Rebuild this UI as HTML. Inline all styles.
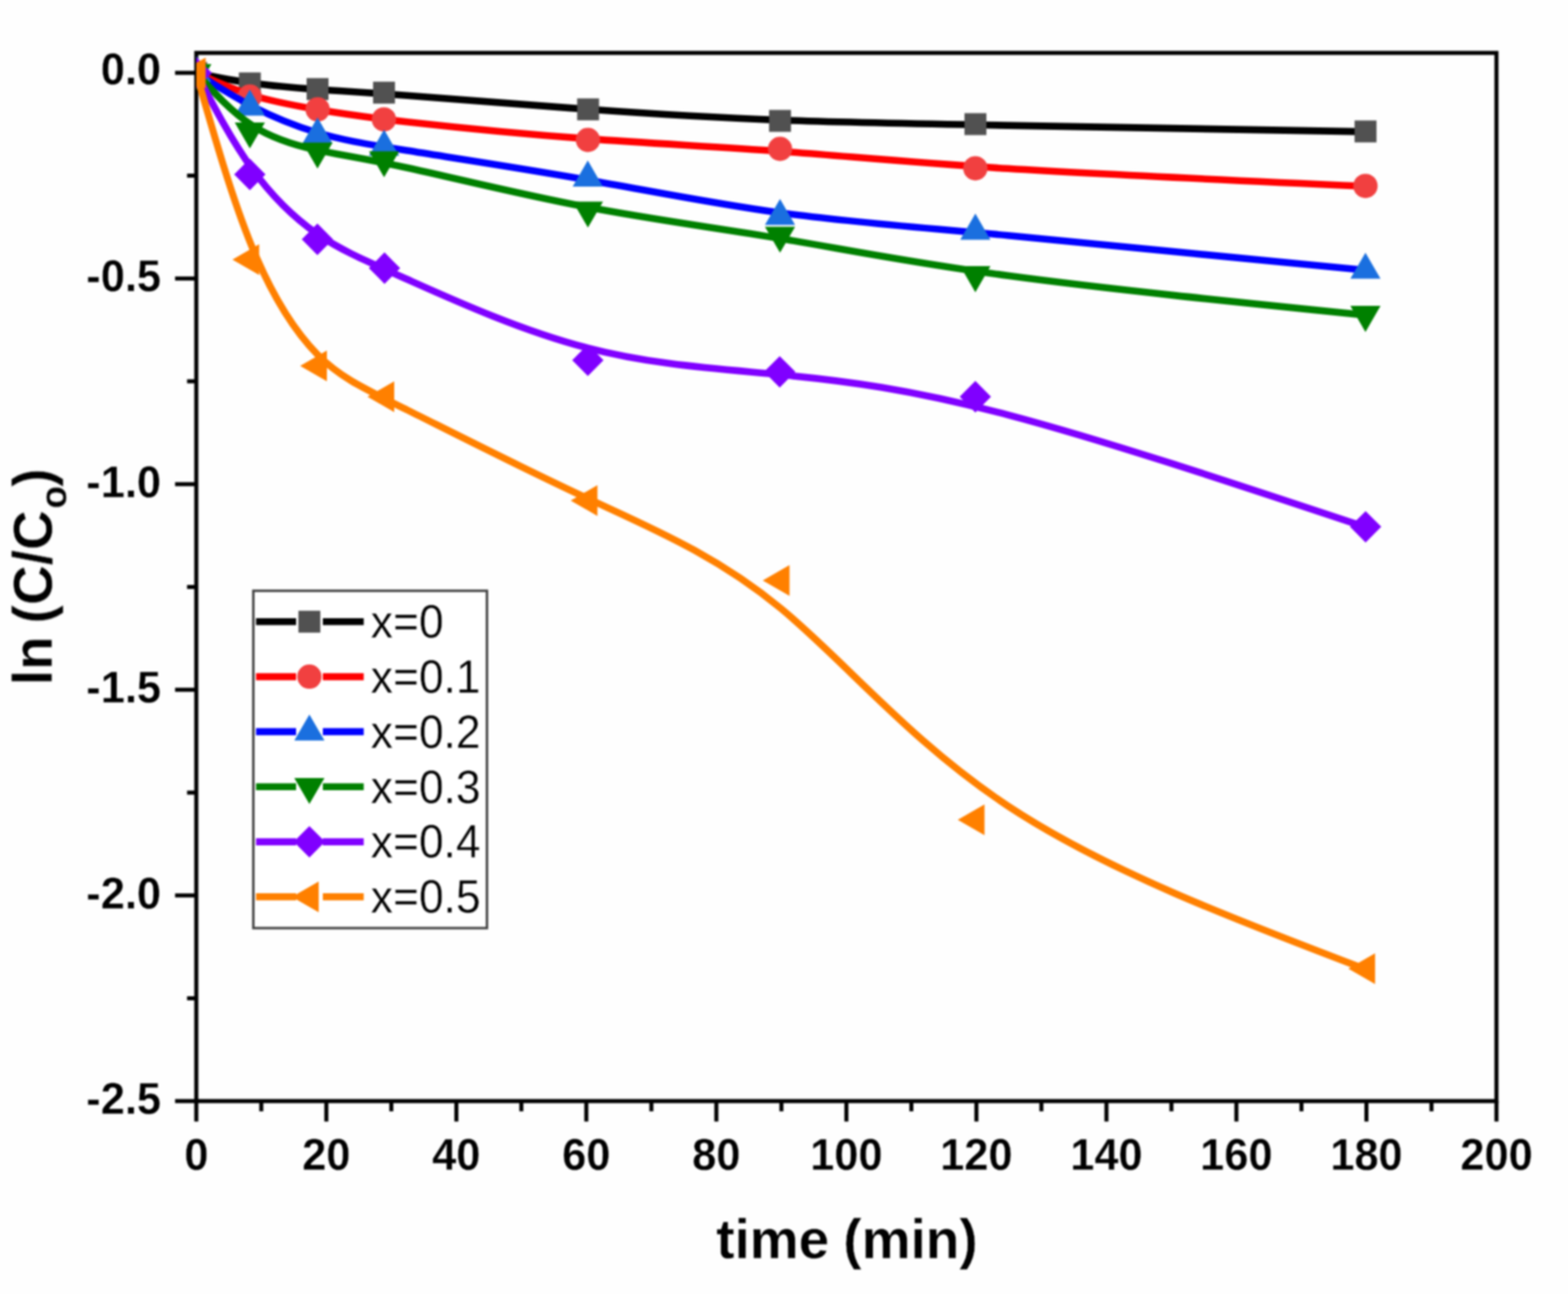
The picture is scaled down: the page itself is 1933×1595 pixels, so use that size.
<!DOCTYPE html>
<html lang="en"><head><meta charset="utf-8"><title>ln (C/Co) vs time (min)</title>
<style>html,body{margin:0;padding:0;background:#fff;}body{width:1933px;height:1595px;overflow:hidden;}svg{display:block;}text{font-family:"Liberation Sans",Arial,Helvetica,sans-serif;fill:#000;stroke:#fefefe;stroke-linejoin:round;}.tk{font-weight:bold;font-size:53.5px;stroke-width:0.3px;}.ti{font-weight:bold;font-size:67.8px;stroke-width:0.4px;}.lg{font-size:54.8px;stroke-width:0.4px;}</style></head><body>
<svg width="1933" height="1595" viewBox="0 0 1933 1595">
<rect width="1933" height="1595" fill="#fefefe"/>
<filter id="soft" x="0" y="0" width="1933" height="1595" filterUnits="userSpaceOnUse" color-interpolation-filters="sRGB"><feGaussianBlur stdDeviation="0.8"/></filter>
<g filter="url(#soft)">
<defs><clipPath id="clip"><rect x="242.0" y="66.7" width="1602.8" height="1290.5"/></clipPath></defs>
<g stroke="#000" stroke-width="5.0" fill="none" stroke-linecap="butt">
<rect x="242.0" y="65.2" width="1602.8" height="1292.0"/>
<line x1="242.0" y1="1357.2" x2="242.0" y2="1382.4"/>
<line x1="322.1" y1="1357.2" x2="322.1" y2="1369.8"/>
<line x1="402.3" y1="1357.2" x2="402.3" y2="1382.4"/>
<line x1="482.4" y1="1357.2" x2="482.4" y2="1369.8"/>
<line x1="562.6" y1="1357.2" x2="562.6" y2="1382.4"/>
<line x1="642.7" y1="1357.2" x2="642.7" y2="1369.8"/>
<line x1="722.8" y1="1357.2" x2="722.8" y2="1382.4"/>
<line x1="803.0" y1="1357.2" x2="803.0" y2="1369.8"/>
<line x1="883.1" y1="1357.2" x2="883.1" y2="1382.4"/>
<line x1="963.3" y1="1357.2" x2="963.3" y2="1369.8"/>
<line x1="1043.4" y1="1357.2" x2="1043.4" y2="1382.4"/>
<line x1="1123.5" y1="1357.2" x2="1123.5" y2="1369.8"/>
<line x1="1203.7" y1="1357.2" x2="1203.7" y2="1382.4"/>
<line x1="1283.8" y1="1357.2" x2="1283.8" y2="1369.8"/>
<line x1="1364.0" y1="1357.2" x2="1364.0" y2="1382.4"/>
<line x1="1444.1" y1="1357.2" x2="1444.1" y2="1369.8"/>
<line x1="1524.2" y1="1357.2" x2="1524.2" y2="1382.4"/>
<line x1="1604.4" y1="1357.2" x2="1604.4" y2="1369.8"/>
<line x1="1684.5" y1="1357.2" x2="1684.5" y2="1382.4"/>
<line x1="1764.7" y1="1357.2" x2="1764.7" y2="1369.8"/>
<line x1="1844.8" y1="1357.2" x2="1844.8" y2="1382.4"/>
<line x1="242.0" y1="89.8" x2="215.8" y2="89.8"/>
<line x1="242.0" y1="216.5" x2="230.6" y2="216.5"/>
<line x1="242.0" y1="343.3" x2="215.8" y2="343.3"/>
<line x1="242.0" y1="470.0" x2="230.6" y2="470.0"/>
<line x1="242.0" y1="596.8" x2="215.8" y2="596.8"/>
<line x1="242.0" y1="723.5" x2="230.6" y2="723.5"/>
<line x1="242.0" y1="850.2" x2="215.8" y2="850.2"/>
<line x1="242.0" y1="977.0" x2="230.6" y2="977.0"/>
<line x1="242.0" y1="1103.7" x2="215.8" y2="1103.7"/>
<line x1="242.0" y1="1230.5" x2="230.6" y2="1230.5"/>
<line x1="242.0" y1="1357.2" x2="215.8" y2="1357.2"/>
</g>
<g clip-path="url(#clip)">
<path d="M242.0 90.0C264.0 94.5 286.0 99.1 310.9 102.5C335.8 105.9 363.7 108.3 391.2 110.2C418.8 112.1 446.1 113.5 501.7 117.7C557.3 121.9 641.1 128.7 722.5 134.5C803.9 140.3 882.7 145.1 962.3 148.1C1041.9 151.1 1122.2 152.5 1242.5 154.6C1362.8 156.7 1523.1 159.5 1683.4 162.4" fill="none" stroke="#000000" stroke-width="8.6" stroke-linejoin="round"/>
<rect x="228.5" y="76.5" width="27.0" height="27.0" fill="#515151"/>
<rect x="294.5" y="89.3" width="27.0" height="27.0" fill="#515151"/>
<rect x="378.0" y="96.3" width="27.0" height="27.0" fill="#515151"/>
<rect x="459.9" y="100.7" width="27.0" height="27.0" fill="#515151"/>
<rect x="711.5" y="121.3" width="27.0" height="27.0" fill="#515151"/>
<rect x="948.1" y="135.5" width="27.0" height="27.0" fill="#515151"/>
<rect x="1189.0" y="139.5" width="27.0" height="27.0" fill="#515151"/>
<rect x="1669.9" y="148.5" width="27.0" height="27.0" fill="#515151"/>
<path d="M242.0 90.0C264.0 99.9 286.0 109.9 310.9 117.5C335.9 125.1 363.7 130.3 391.3 135.0C418.8 139.7 446.1 143.9 501.6 150.2C557.1 156.4 641.0 164.9 722.4 170.9C803.7 177.0 882.7 180.6 962.3 186.5C1041.9 192.3 1122.1 200.2 1242.4 207.8C1362.7 215.3 1523.0 222.5 1683.3 229.6" fill="none" stroke="#ff0000" stroke-width="8.6" stroke-linejoin="round"/>
<circle cx="242.0" cy="90.0" r="15.0" fill="#f14040"/>
<circle cx="308.0" cy="119.0" r="15.0" fill="#f14040"/>
<circle cx="391.6" cy="134.8" r="15.0" fill="#f14040"/>
<circle cx="473.3" cy="147.2" r="15.0" fill="#f14040"/>
<circle cx="724.8" cy="172.5" r="15.0" fill="#f14040"/>
<circle cx="961.6" cy="183.5" r="15.0" fill="#f14040"/>
<circle cx="1202.4" cy="207.4" r="15.0" fill="#f14040"/>
<circle cx="1683.3" cy="229.2" r="15.0" fill="#f14040"/>
<path d="M242.0 90.0C264.0 104.1 286.0 118.2 310.9 131.0C335.8 143.8 363.6 155.3 391.2 163.5C418.8 171.8 446.1 176.8 501.7 185.6C557.2 194.5 640.9 207.1 722.2 221.4C803.6 235.6 882.6 251.4 962.2 262.3C1041.9 273.2 1122.1 279.3 1242.4 290.2C1362.7 301.2 1523.0 317.2 1683.3 333.1" fill="none" stroke="#0000ff" stroke-width="8.6" stroke-linejoin="round"/>
<polygon points="242.0,68.8 260.6,100.9 223.4,100.9" fill="#1a6fdf"/>
<polygon points="308.0,110.3 326.6,142.4 289.4,142.4" fill="#1a6fdf"/>
<polygon points="391.4,144.8 410.0,176.9 372.8,176.9" fill="#1a6fdf"/>
<polygon points="473.5,159.8 492.1,191.9 454.9,191.9" fill="#1a6fdf"/>
<polygon points="724.6,197.8 743.2,229.9 706.0,229.9" fill="#1a6fdf"/>
<polygon points="961.6,245.2 980.2,277.3 943.0,277.3" fill="#1a6fdf"/>
<polygon points="1202.4,263.3 1221.0,295.4 1183.8,295.4" fill="#1a6fdf"/>
<polygon points="1683.3,311.5 1701.9,343.6 1664.7,343.6" fill="#1a6fdf"/>
<path d="M242.0 90.0C264.0 114.2 286.0 138.4 310.9 154.6C335.8 170.9 363.6 179.1 391.2 185.1C418.8 191.0 446.1 194.6 501.7 206.7C557.3 218.8 641.0 239.5 722.4 255.0C803.7 270.5 882.7 280.8 962.3 294.1C1041.9 307.4 1122.1 323.6 1242.4 339.8C1362.7 356.0 1523.0 372.2 1683.3 388.4" fill="none" stroke="#008000" stroke-width="8.6" stroke-linejoin="round"/>
<polygon points="223.4,79.1 260.6,79.1 242.0,111.2" fill="#008000"/>
<polygon points="289.4,150.9 326.6,150.9 308.0,183.0" fill="#008000"/>
<polygon points="372.8,175.7 410.0,175.7 391.4,207.8" fill="#008000"/>
<polygon points="454.9,186.5 492.1,186.5 473.5,218.6" fill="#008000"/>
<polygon points="706.2,248.4 743.4,248.4 724.8,280.5" fill="#008000"/>
<polygon points="943.0,279.5 980.2,279.5 961.6,311.6" fill="#008000"/>
<polygon points="1183.8,328.1 1221.0,328.1 1202.4,360.2" fill="#008000"/>
<polygon points="1664.7,377.1 1701.9,377.1 1683.3,409.2" fill="#008000"/>
<path d="M242.0 90.0C264.0 131.9 286.0 173.9 310.9 208.2C335.8 242.5 363.5 269.1 391.2 288.4C418.9 307.6 446.4 319.5 502.0 344.3C557.6 369.1 641.1 407.0 722.3 428.3C803.5 449.6 882.4 454.3 962.0 461.8C1041.6 469.3 1122.0 479.6 1242.4 511.3C1362.8 543.1 1523.1 596.4 1683.5 649.7" fill="none" stroke="#8000ff" stroke-width="8.6" stroke-linejoin="round"/>
<polygon points="242.0,70.6 261.3,90.0 242.0,109.4 222.7,90.0" fill="#8000ff"/>
<polygon points="308.0,195.6 327.3,215.0 308.0,234.4 288.7,215.0" fill="#8000ff"/>
<polygon points="391.3,275.6 410.6,295.0 391.3,314.4 372.0,295.0" fill="#8000ff"/>
<polygon points="474.0,311.1 493.3,330.5 474.0,349.9 454.7,330.5" fill="#8000ff"/>
<polygon points="724.7,424.6 744.0,444.0 724.7,463.4 705.4,444.0" fill="#8000ff"/>
<polygon points="961.2,438.9 980.5,458.3 961.2,477.7 941.9,458.3" fill="#8000ff"/>
<polygon points="1202.4,469.6 1221.7,489.0 1202.4,508.4 1183.1,489.0" fill="#8000ff"/>
<polygon points="1683.5,629.9 1702.8,649.3 1683.5,668.7 1664.2,649.3" fill="#8000ff"/>
<path d="M242.0 90.0C264.0 167.2 286.0 244.3 310.9 304.8C335.8 365.2 363.7 408.8 391.4 437.0C419.2 465.2 446.8 477.8 502.4 505.5C558.0 533.2 641.5 575.8 722.7 613.6C803.9 651.4 882.9 684.2 962.4 749.8C1041.9 815.4 1122.1 913.7 1242.4 993.3C1362.7 1072.9 1523.2 1133.8 1683.7 1194.8" fill="none" stroke="#ff8000" stroke-width="8.6" stroke-linejoin="round"/>
<polygon points="220.5,90.0 253.5,71.0 253.5,109.0" fill="#ff8000"/>
<polygon points="286.5,320.0 319.5,301.0 319.5,339.0" fill="#ff8000"/>
<polygon points="370.0,451.0 403.0,432.0 403.0,470.0" fill="#ff8000"/>
<polygon points="453.0,489.0 486.0,470.0 486.0,508.0" fill="#ff8000"/>
<polygon points="703.5,617.0 736.5,598.0 736.5,636.0" fill="#ff8000"/>
<polygon points="940.3,715.6 973.3,696.6 973.3,734.6" fill="#ff8000"/>
<polygon points="1180.7,1010.5 1213.7,991.5 1213.7,1029.5" fill="#ff8000"/>
<polygon points="1662.2,1194.0 1695.2,1175.0 1695.2,1213.0" fill="#ff8000"/>
</g>
<text class="tk" transform="translate(242.0 1441.8) scale(1 1.03)" text-anchor="middle">0</text>
<text class="tk" transform="translate(402.3 1441.8) scale(1 1.03)" text-anchor="middle">20</text>
<text class="tk" transform="translate(562.6 1441.8) scale(1 1.03)" text-anchor="middle">40</text>
<text class="tk" transform="translate(722.8 1441.8) scale(1 1.03)" text-anchor="middle">60</text>
<text class="tk" transform="translate(883.1 1441.8) scale(1 1.03)" text-anchor="middle">80</text>
<text class="tk" transform="translate(1043.4 1441.8) scale(1 1.03)" text-anchor="middle">100</text>
<text class="tk" transform="translate(1203.7 1441.8) scale(1 1.03)" text-anchor="middle">120</text>
<text class="tk" transform="translate(1364.0 1441.8) scale(1 1.03)" text-anchor="middle">140</text>
<text class="tk" transform="translate(1524.2 1441.8) scale(1 1.03)" text-anchor="middle">160</text>
<text class="tk" transform="translate(1684.5 1441.8) scale(1 1.03)" text-anchor="middle">180</text>
<text class="tk" transform="translate(1844.8 1441.8) scale(1 1.03)" text-anchor="middle">200</text>
<text class="tk" transform="translate(198.5 104.4) scale(1 1.03)" text-anchor="end">0.0</text>
<text class="tk" transform="translate(198.5 359.1) scale(1 1.03)" text-anchor="end">-0.5</text>
<text class="tk" transform="translate(198.5 612.6) scale(1 1.03)" text-anchor="end">-1.0</text>
<text class="tk" transform="translate(198.5 866.0) scale(1 1.03)" text-anchor="end">-1.5</text>
<text class="tk" transform="translate(198.5 1119.5) scale(1 1.03)" text-anchor="end">-2.0</text>
<text class="tk" transform="translate(198.5 1373.0) scale(1 1.03)" text-anchor="end">-2.5</text>
<text class="ti" x="1042.6" y="1551.0" text-anchor="middle"><tspan dx="1.5">time</tspan><tspan dx="-1.5"> (min)</tspan></text>
<text class="ti" transform="translate(64.0 844.5) rotate(-90)" text-anchor="start">ln <tspan dx="-3">(C/C</tspan><tspan font-size="46" dx="2" dy="18">o</tspan><tspan dy="-18" dx="-1">)</tspan></text>
<rect x="312.3" y="728.2" width="288.0" height="415.8" fill="#fff" stroke="#404040" stroke-width="3"/>
<line x1="315.6" y1="766.3" x2="365" y2="766.3" stroke="#000000" stroke-width="8.6" stroke-linecap="butt"/>
<line x1="398" y1="766.3" x2="448.4" y2="766.3" stroke="#000000" stroke-width="8.6" stroke-linecap="butt"/>
<rect x="367.9" y="752.8" width="27.0" height="27.0" fill="#515151"/>
<text class="lg" transform="translate(457 786.1) scale(1 1.05)">x=0</text>
<line x1="315.6" y1="834.1" x2="365" y2="834.1" stroke="#ff0000" stroke-width="8.6" stroke-linecap="butt"/>
<line x1="398" y1="834.1" x2="448.4" y2="834.1" stroke="#ff0000" stroke-width="8.6" stroke-linecap="butt"/>
<circle cx="381.4" cy="834.1" r="15.0" fill="#f14040"/>
<text class="lg" transform="translate(457 853.9) scale(1 1.05)">x=0.1</text>
<line x1="315.6" y1="901.9" x2="365" y2="901.9" stroke="#0000ff" stroke-width="8.6" stroke-linecap="butt"/>
<line x1="398" y1="901.9" x2="448.4" y2="901.9" stroke="#0000ff" stroke-width="8.6" stroke-linecap="butt"/>
<polygon points="381.4,880.7 400.0,912.8 362.8,912.8" fill="#1a6fdf"/>
<text class="lg" transform="translate(457 921.7) scale(1 1.05)">x=0.2</text>
<line x1="315.6" y1="969.8" x2="365" y2="969.8" stroke="#008000" stroke-width="8.6" stroke-linecap="butt"/>
<line x1="398" y1="969.8" x2="448.4" y2="969.8" stroke="#008000" stroke-width="8.6" stroke-linecap="butt"/>
<polygon points="362.8,958.9 400.0,958.9 381.4,991.0" fill="#008000"/>
<text class="lg" transform="translate(457 989.6) scale(1 1.05)">x=0.3</text>
<line x1="315.6" y1="1037.6" x2="365" y2="1037.6" stroke="#8000ff" stroke-width="8.6" stroke-linecap="butt"/>
<line x1="398" y1="1037.6" x2="448.4" y2="1037.6" stroke="#8000ff" stroke-width="8.6" stroke-linecap="butt"/>
<polygon points="381.4,1018.2 400.7,1037.6 381.4,1057.0 362.1,1037.6" fill="#8000ff"/>
<text class="lg" transform="translate(457 1057.4) scale(1 1.05)">x=0.4</text>
<line x1="315.6" y1="1105.4" x2="365" y2="1105.4" stroke="#ff8000" stroke-width="8.6" stroke-linecap="butt"/>
<line x1="398" y1="1105.4" x2="448.4" y2="1105.4" stroke="#ff8000" stroke-width="8.6" stroke-linecap="butt"/>
<polygon points="359.9,1105.4 392.9,1086.4 392.9,1124.4" fill="#ff8000"/>
<text class="lg" transform="translate(457 1125.2) scale(1 1.05)">x=0.5</text>
</g>
</svg></body></html>
